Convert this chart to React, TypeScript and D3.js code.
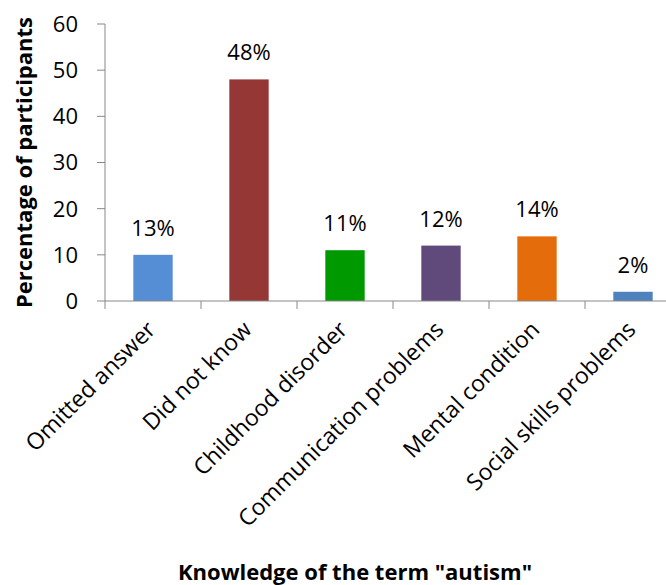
import React, { useEffect, useRef } from "react";
import * as d3 from "d3";

const categories = [
  "Omitted answer",
  "Did not know",
  "Childhood disorder",
  "Communication problems",
  "Mental condition",
  "Social skills problems",
];
const values = [10, 48, 11, 12, 14, 2];
const valueLabels = ["13%", "48%", "11%", "12%", "14%", "2%"];
const barColors = ["#558ED5", "#953735", "#009900", "#604A7B", "#E46C0A", "#4F81BD"];
const yTicks = [0, 10, 20, 30, 40, 50, 60];

const W = 666;
const H = 585;
const FONT = "'Open Sans', sans-serif";

export default function App() {
  const ref = useRef<SVGSVGElement>(null);

  useEffect(() => {
    const svg = d3.select(ref.current);
    svg.selectAll("*").remove();

    const left = 105;
    const band = 96;
    const top = 24;
    const bottom = 301;

    const x = d3
      .scaleBand<string>()
      .domain(categories)
      .range([left, left + band * categories.length])
      .paddingInner(0.59)
      .paddingOuter(0.295);
    const xb = d3.scaleBand<string>().domain(categories).range([left, left + band * categories.length]);
    const y = d3.scaleLinear().domain([0, 60]).range([bottom, top]);

    const axisColor = "#888888";

    // y axis
    const yAxis = svg.append("g").attr("transform", `translate(${left},0)`);
    yAxis
      .append("line")
      .attr("x1", 0)
      .attr("x2", 0)
      .attr("y1", y(0))
      .attr("y2", y(60))
      .attr("stroke", axisColor)
      .attr("stroke-width", 1);
    yTicks.forEach((t) => {
      yAxis
        .append("line")
        .attr("x1", -8)
        .attr("x2", 0)
        .attr("y1", y(t))
        .attr("y2", y(t))
        .attr("stroke", axisColor);
      yAxis
        .append("text")
        .attr("x", -27)
        .attr("y", y(t))
        .attr("dy", "0.36em")
        .attr("text-anchor", "end")
        .attr("font-family", FONT)
        .attr("font-size", 22)
        .attr("fill", "#000")
        .text(t);
    });

    // bars
    svg
      .append("g")
      .selectAll("rect")
      .data(values)
      .join("rect")
      .attr("x", (_, i) => x(categories[i])!)
      .attr("width", x.bandwidth())
      .attr("y", (d) => y(d))
      .attr("height", (d) => y(0) - y(d))
      .attr("fill", (_, i) => barColors[i]);

    // value labels
    svg
      .append("g")
      .selectAll("text")
      .data(values)
      .join("text")
      .attr("x", (_, i) => xb(categories[i])! + band / 2)
      .attr("y", (d) => y(d) - 19)
      .attr("text-anchor", "middle")
      .attr("font-family", FONT)
      .attr("font-size", 22)
      .attr("fill", "#000")
      .text((_, i) => valueLabels[i]);

    // x axis
    const xAxis = svg.append("g").attr("transform", `translate(0,${bottom})`);
    xAxis
      .append("line")
      .attr("x1", left)
      .attr("x2", left + band * categories.length)
      .attr("stroke", axisColor);
    d3.range(categories.length + 1).forEach((i) => {
      xAxis
        .append("line")
        .attr("x1", left + band * i)
        .attr("x2", left + band * i)
        .attr("y1", 0)
        .attr("y2", 8)
        .attr("stroke", axisColor);
    });
    categories.forEach((c) => {
      const cx = xb(c)! + band / 2 + 4;
      xAxis
        .append("text")
        .attr("transform", `translate(${cx},${30}) rotate(-45)`)
        .attr("text-anchor", "end")
        .attr("font-family", FONT)
        .attr("font-size", 23)
        .attr("fill", "#000")
        .text(c);
    });

    // axis titles
    svg
      .append("text")
      .attr("transform", `translate(32,${(top + bottom) / 2}) rotate(-90)`)
      .attr("text-anchor", "middle")
      .attr("font-family", FONT)
      .attr("font-weight", "bold")
      .attr("font-size", 22)
      .attr("fill", "#000")
      .text("Percentage of participants");

    svg
      .append("text")
      .attr("x", 355)
      .attr("y", 580)
      .attr("text-anchor", "middle")
      .attr("font-family", FONT)
      .attr("font-weight", "bold")
      .attr("font-size", 22)
      .attr("fill", "#000")
      .text('Knowledge of the term "autism"');
  }, []);

  return (
    <svg
      ref={ref}
      width={W}
      height={H}
      style={{ position: "absolute", left: 0, top: 0, background: "#fff" }}
    />
  );
}
